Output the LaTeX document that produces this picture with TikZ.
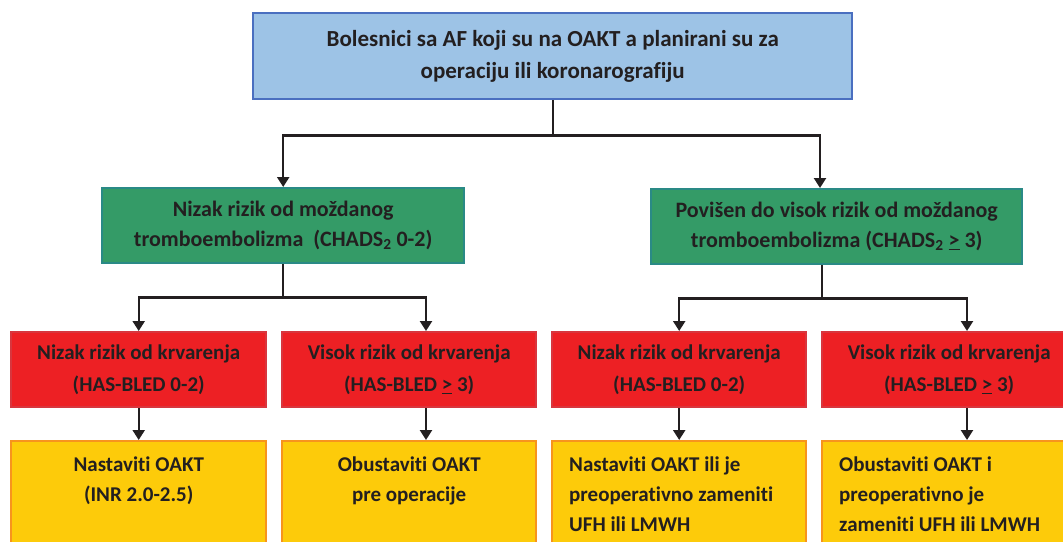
\documentclass[tikz,border=0pt]{standalone}
\usepackage{fontspec}
\setmainfont{Carlito}[Ligatures=NoCommon]
\usetikzlibrary{arrows.meta,calc}
\definecolor{txt}{HTML}{231F20}
\definecolor{bluefill}{HTML}{9DC3E6}
\definecolor{blueline}{HTML}{4A6FC0}
\definecolor{greenfill}{HTML}{349B67}
\definecolor{greenline}{HTML}{2A8A86}
\definecolor{redfill}{HTML}{ED2024}
\definecolor{redline}{HTML}{D8363E}
\definecolor{yelfill}{HTML}{FDCB0A}
\definecolor{yelline}{HTML}{F7941D}
\tikzset{
  box/.style={anchor=north west, line width=2.4pt, inner sep=0pt, align=center, text=txt,
    font=\fontsize{21}{30}\selectfont\bfseries},
  topbox/.style={box, fill=bluefill, draw=blueline, font=\fontsize{23}{32}\selectfont\bfseries},
  greenbox/.style={box, fill=greenfill, draw=greenline, font=\fontsize{22}{30}\selectfont\bfseries},
  redbox/.style={box, fill=redfill, draw=redline, font=\fontsize{21}{32}\selectfont\bfseries},
  yelbox/.style={box, fill=yelfill, draw=yelline},
  yelleft/.style={yelbox, text width=220pt, align=flush left},
  link/.style={line width=2.3pt, draw=txt},
  arr/.style={link, -{Triangle[width=12pt,length=10pt]}},
}
\begin{document}
\begin{tikzpicture}[x=1pt,y=-1pt]
\useasboundingbox (0,0) rectangle (1063,541);
\node[topbox, minimum width=599pt, minimum height=86pt] (top) at (252,12)
  {Bolesnici sa AF koji su na OAKT a planirani su za\\operaciju ili koronarografiju};
\node[greenbox, minimum width=362pt, minimum height=75pt] (gL) at (101,187)
  {Nizak rizik od moždanog\\tromboembolizma\ \ (CHADS\textsubscript{2} 0-2)};
\node[greenbox, minimum width=371pt, minimum height=75pt] (gR) at (650,188)
  {Povišen do visok rizik od moždanog\\tromboembolizma (CHADS\textsubscript{2} \underline{>} 3)};
\node[redbox, minimum width=255pt, minimum height=75pt] (r1) at (10,331)
  {Nizak rizik od krvarenja\\(HAS-BLED 0-2)};
\node[redbox, minimum width=254pt, minimum height=75pt] (r2) at (281,331)
  {Visok rizik od krvarenja\\(HAS-BLED \underline{>} 3)};
\node[redbox, minimum width=254pt, minimum height=75pt] (r3) at (551,331)
  {Nizak rizik od krvarenja\\(HAS-BLED 0-2)};
\node[redbox, minimum width=254pt, minimum height=75pt] (r4) at (821,331)
  {Visok rizik od krvarenja\\(HAS-BLED \underline{>} 3)};
\node[yelbox, minimum width=255pt, minimum height=106pt] (y1) at (10,440)
  {Nastaviti OAKT\\(INR 2.0-2.5)\\\mbox{}};
\node[yelbox, minimum width=254pt, minimum height=106pt] (y2) at (281,440)
  {Obustaviti OAKT\\pre operacije\\\mbox{}};
\node[yelleft, minimum width=254pt, minimum height=106pt] (y3) at (551,440)
  {Nastaviti OAKT ili je\\preoperativno zameniti\\UFH ili LMWH};
\node[yelleft, minimum width=254pt, minimum height=106pt] (y4) at (821,440)
  {Obustaviti OAKT i\\preoperativno je\\zameniti UFH ili LMWH};
% connectors
\coordinate (s0) at ($(top.south)+(0,35)$);
\coordinate (gRin) at ($(gR.north west)+(170,0)$);
\draw[link] (top.south) -- (s0);
\draw[arr] (s0) -| (gL.north);
\draw[arr] (s0) -| (gRin);
\coordinate (sL) at ($(gL.south)+(0,33)$);
\coordinate (r2in) at ($(r2.north west)+(145,0)$);
\draw[link] (gL.south) -- (sL);
\draw[arr] (sL) -| (r1.north);
\draw[arr] (sL) -| (r2in);
\coordinate (gRout) at ($(gR.south west)+(172,0)$);
\coordinate (sR) at ($(gRout)+(0,33)$);
\coordinate (r4in) at ($(r4.north west)+(146,0)$);
\draw[link] (gRout) -- (sR);
\draw[arr] (sR) -| (r3.north);
\draw[arr] (sR) -| (r4in);
\coordinate (r2out) at ($(r2.south west)+(145,0)$);
\coordinate (y2in) at ($(y2.north west)+(145,0)$);
\coordinate (r4out) at ($(r4.south west)+(146,0)$);
\coordinate (y4in) at ($(y4.north west)+(146,0)$);
\draw[arr] (r1.south) -- (y1.north);
\draw[arr] (r2out) -- (y2in);
\draw[arr] (r3.south) -- (y3.north);
\draw[arr] (r4out) -- (y4in);
\end{tikzpicture}
\end{document}
